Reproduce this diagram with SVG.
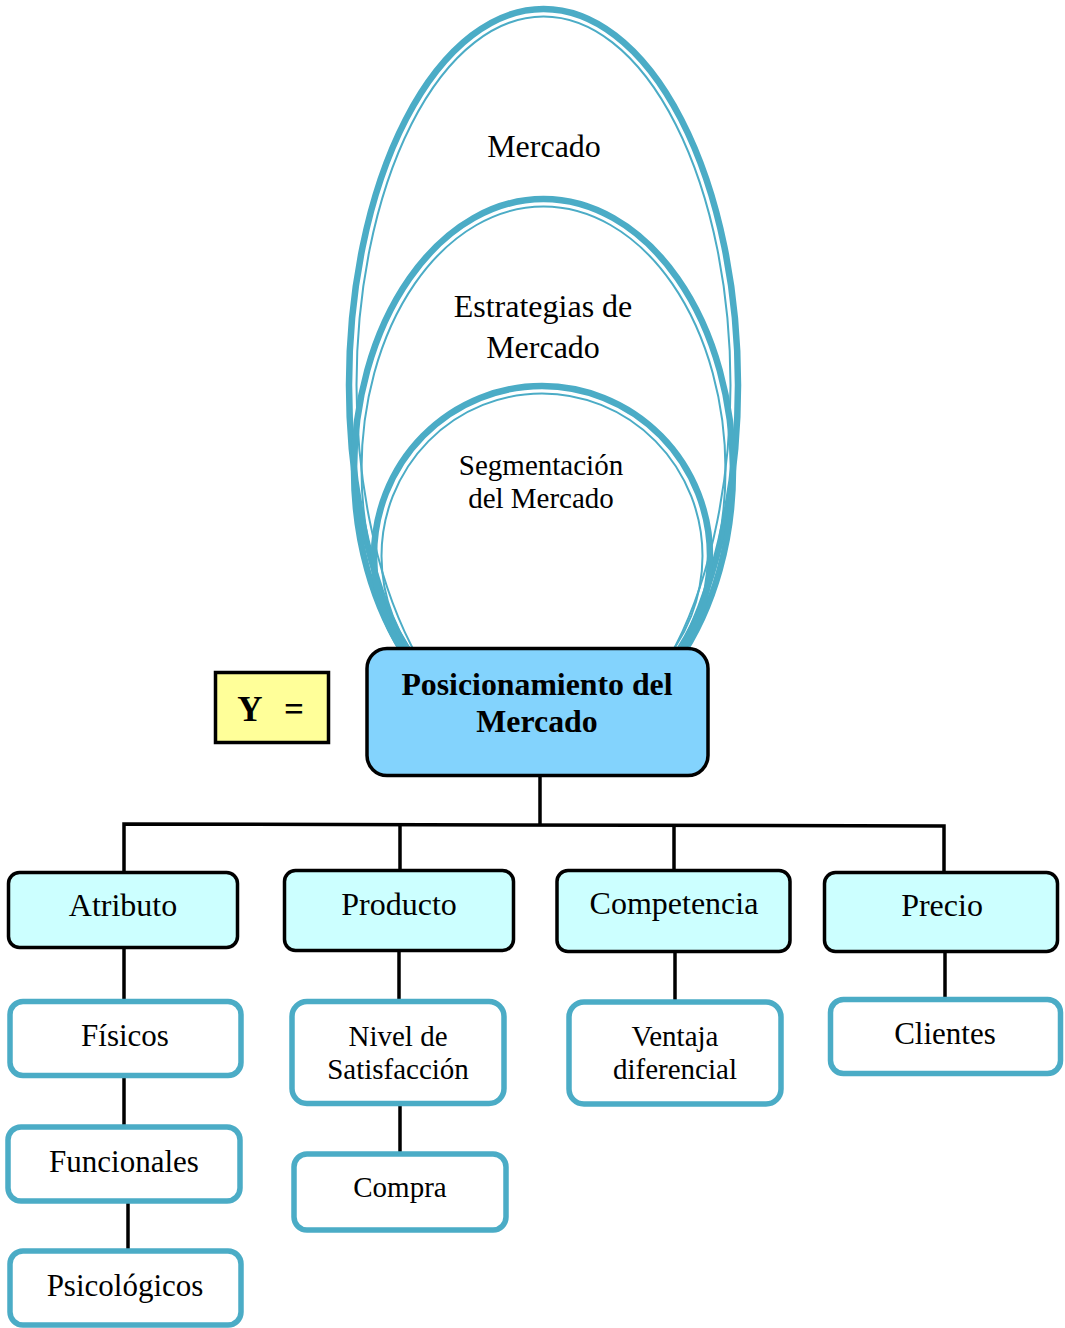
<svg xmlns="http://www.w3.org/2000/svg" width="1065" height="1328" viewBox="0 0 1065 1328">
  <style>
    text { font-family: "Liberation Serif", "Times New Roman", serif; fill: #000; text-anchor: middle; }
    .ring { fill: none; stroke: #4BACC6; stroke-width: 6.5; }
    .ring-in { fill: none; stroke: #4BACC6; stroke-width: 2; }
    .main { fill: #83D3FD; stroke: #000; stroke-width: 3.5; }
    .lvl1 { fill: #CCFFFF; stroke: #000; stroke-width: 3.5; }
    .lvl2 { fill: #FFFFFF; stroke: #4BACC6; stroke-width: 5.5; }
    .ybox { fill: #FFFF99; stroke: #000; stroke-width: 3.5; }
    .conn { stroke: #000; stroke-width: 3.5; fill: none; }
    .t32 { font-size: 32px; }
    .t31 { font-size: 31px; }
    .t29 { font-size: 29px; }
    .bold { font-weight: bold; }
  </style>
  <rect width="1065" height="1328" fill="#FFFFFF"/>

  <!-- nested double-line ellipses -->
  <g id="ring-mercado">
    <ellipse class="ring" cx="543.5" cy="385" rx="194.5" ry="376"/>
    <ellipse class="ring-in" cx="543.5" cy="385" rx="187" ry="368.5"/>
    <text class="t32" x="544" y="157">Mercado</text>
  </g>
  <g id="ring-estrategias">
    <ellipse class="ring" cx="543.5" cy="470" rx="189.5" ry="271"/>
    <ellipse class="ring-in" cx="543.5" cy="470" rx="182" ry="263.5"/>
    <text class="t32" x="543" y="317">Estrategias de</text>
    <text class="t32" x="543" y="358">Mercado</text>
  </g>
  <g id="ring-segmentacion">
    <ellipse class="ring" cx="542" cy="556" rx="168" ry="170"/>
    <ellipse class="ring-in" cx="542" cy="556" rx="160.5" ry="162.5"/>
    <text class="t29" x="541" y="475">Segmentación</text>
    <text class="t29" x="541" y="508">del Mercado</text>
  </g>

  <!-- connectors -->
  <g id="connectors">
    <path class="conn" d="M540 776 V825"/>
    <path class="conn" d="M124 872 V824 L944 826 V872"/>
    <path class="conn" d="M400 825 V870"/>
    <path class="conn" d="M674 826 V870"/>
    <path class="conn" d="M124 948 V1001"/>
    <path class="conn" d="M124 1076 V1126"/>
    <path class="conn" d="M128 1201 V1250"/>
    <path class="conn" d="M399 951 V1001"/>
    <path class="conn" d="M400 1104 V1153"/>
    <path class="conn" d="M675 952 V1001"/>
    <path class="conn" d="M945 952 V999"/>
  </g>

  <!-- equation label -->
  <g id="y-label">
    <rect class="ybox" x="215.5" y="672.5" width="113" height="70"/>
    <text class="bold" x="250" y="721" font-size="35">Y</text>
    <text class="bold" x="294" y="721" font-size="35">=</text>
  </g>

  <!-- central node -->
  <g id="posicionamiento">
    <rect class="main" x="367" y="648.5" width="341" height="127" rx="20"/>
    <text class="bold" x="537" y="695" font-size="31.8">Posicionamiento del</text>
    <text class="bold" x="537" y="732" font-size="31.8">Mercado</text>
  </g>

  <!-- first level -->
  <g id="atributo">
    <rect class="lvl1" x="8.5" y="872.5" width="229" height="75" rx="11"/>
    <text class="t32" x="123" y="916">Atributo</text>
  </g>
  <g id="producto">
    <rect class="lvl1" x="284.5" y="870.5" width="229" height="80" rx="11"/>
    <text class="t32" x="399" y="915">Producto</text>
  </g>
  <g id="competencia">
    <rect class="lvl1" x="557" y="870.5" width="233" height="81" rx="11"/>
    <text class="t32" x="674" y="914">Competencia</text>
  </g>
  <g id="precio">
    <rect class="lvl1" x="824.5" y="872.5" width="233" height="79" rx="11"/>
    <text class="t32" x="942" y="916">Precio</text>
  </g>

  <!-- second level -->
  <g id="fisicos">
    <rect class="lvl2" x="10" y="1001.5" width="231" height="74" rx="13"/>
    <text class="t31" x="125" y="1046">Físicos</text>
  </g>
  <g id="funcionales">
    <rect class="lvl2" x="8" y="1127" width="232" height="74" rx="13"/>
    <text class="t31" x="124" y="1172">Funcionales</text>
  </g>
  <g id="psicologicos">
    <rect class="lvl2" x="10" y="1251" width="231" height="74" rx="13"/>
    <text class="t31" x="125" y="1296">Psicológicos</text>
  </g>
  <g id="nivel-satisfaccion">
    <rect class="lvl2" x="292" y="1001.5" width="212" height="102" rx="15"/>
    <text class="t29" x="398" y="1046">Nivel de</text>
    <text class="t29" x="398" y="1079">Satisfacción</text>
  </g>
  <g id="compra">
    <rect class="lvl2" x="294" y="1154" width="212" height="76" rx="13"/>
    <text class="t29" x="400" y="1197">Compra</text>
  </g>
  <g id="ventaja">
    <rect class="lvl2" x="569" y="1002" width="212" height="102" rx="15"/>
    <text class="t29" x="675" y="1046">Ventaja</text>
    <text class="t29" x="675" y="1079">diferencial</text>
  </g>
  <g id="clientes">
    <rect class="lvl2" x="830.5" y="999.5" width="230" height="74" rx="13"/>
    <text class="t31" x="945" y="1044">Clientes</text>
  </g>
</svg>
